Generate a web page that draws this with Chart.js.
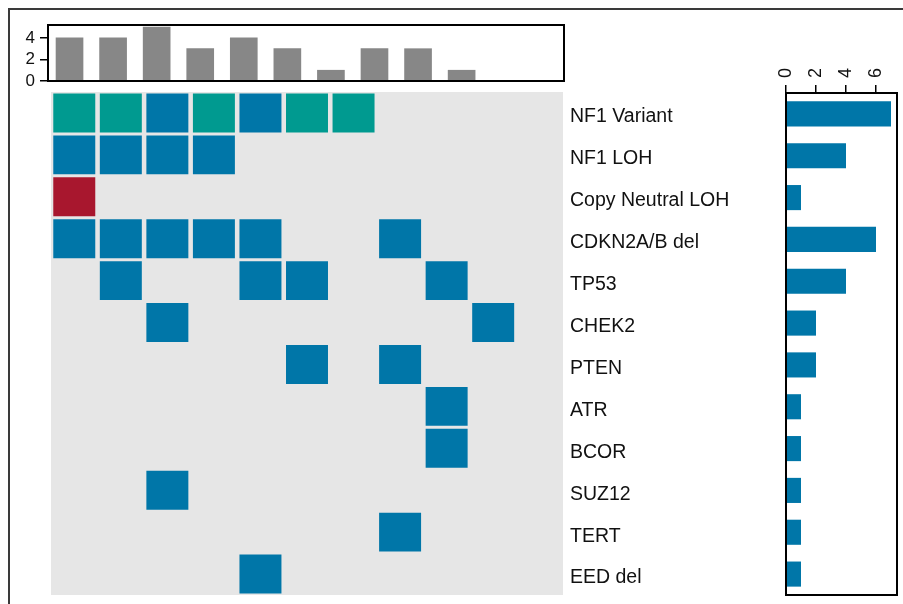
<!DOCTYPE html>
<html><head><meta charset="utf-8">
<script src="https://cdn.jsdelivr.net/npm/chart.js@4/dist/chart.umd.min.js"></script>
<style>
html,body{margin:0;padding:0;background:#fff;}
body{width:903px;height:604px;position:relative;overflow:hidden;}
#frame{position:absolute;left:8px;top:8px;width:920px;height:620px;border-left:2px solid #3a3a3a;border-top:2px solid #3a3a3a;}
canvas{position:absolute;}
</style></head><body>
<div id="frame"></div>
<canvas id="top" width="580" height="90" style="left:0;top:0"></canvas>
<canvas id="grid" width="780" height="604" style="left:0;top:0"></canvas>
<canvas id="side" width="143" height="604" style="left:760px;top:0"></canvas>
<script>
// ---- data ----
const genes = ['NF1 Variant','NF1 LOH','Copy Neutral LOH','CDKN2A/B del','TP53','CHEK2','PTEN','ATR','BCOR','SUZ12','TERT','EED del'];
const sampleIndex = [0,1,2,3,4,5,6,7,8,9];
const sampleCounts = [4,4,5,3,4,3,1,3,3,1];
const geneCounts = [7,4,1,6,4,2,2,1,1,1,1,1];
const topTicks = [0,2,4];
const sideTicks = [0,2,4,6];
// alteration code per sample: 0 none, 1 blue, 2 teal, 3 red
const rowNF1Variant = [2,2,1,2,1,2,2,0,0,0];
const rowNF1LOH     = [1,1,1,1,0,0,0,0,0,0];
const rowCNLOH      = [3,0,0,0,0,0,0,0,0,0];
const rowCDKN2AB    = [1,1,1,1,1,0,0,1,0,0];
const rowTP53       = [0,1,0,0,1,1,0,0,1,0];
const rowCHEK2      = [0,0,1,0,0,0,0,0,0,1];
const rowPTEN       = [0,0,0,0,0,1,0,1,0,0];
const rowATR        = [0,0,0,0,0,0,0,0,1,0];
const rowBCOR       = [0,0,0,0,0,0,0,0,1,0];
const rowSUZ12      = [0,0,1,0,0,0,0,0,0,0];
const rowTERT       = [0,0,0,0,0,0,0,1,0,0];
const rowEED        = [0,0,0,0,1,0,0,0,0,0];
const rows = [rowNF1Variant,rowNF1LOH,rowCNLOH,rowCDKN2AB,rowTP53,rowCHEK2,rowPTEN,rowATR,rowBCOR,rowSUZ12,rowTERT,rowEED];
const codeColors = {1:'#0076a8', 2:'#009a90', 3:'#a8172e'};

const FONT = "'Liberation Sans', Arial, sans-serif";
Chart.defaults.font.family = FONT;
Chart.defaults.animation = false;

const boxPlugin = {
  id:'box',
  afterDraw(chart){
    const a = chart.chartArea, c = chart.ctx;
    c.save(); c.strokeStyle = '#000'; c.lineWidth = 2;
    c.strokeRect(a.left, a.top, a.right-a.left, a.bottom-a.top); c.restore();
  }
};
const bgPlugin = {
  id:'bg',
  beforeDatasetsDraw(chart){
    const a = chart.chartArea, c = chart.ctx;
    c.save(); c.fillStyle = '#e6e6e6';
    c.fillRect(a.left, a.top, a.right-a.left, a.bottom-a.top); c.restore();
  }
};
function noPad(s){ s.paddingTop = 0; s.paddingBottom = 0; s.paddingLeft = 0; s.paddingRight = 0; }

// ---- top bar chart ----
new Chart(document.getElementById('top'), {
  type:'bar',
  data:{ datasets:[{ data: sampleIndex.map((s,i)=>({x:s, y:sampleCounts[i]})), backgroundColor:'#878787', barThickness:27, borderWidth:0 }]},
  options:{
    responsive:false, maintainAspectRatio:false,
    layout:{padding:{top:25,right:16,bottom:9,left:0}},
    plugins:{legend:{display:false}, tooltip:{enabled:false}},
    scales:{
      x:{type:'linear', min:-0.494, max:11.35, offset:false, display:false},
      y:{min:0, max:5.2,
         afterBuildTicks(s){ s.ticks = topTicks.map(v=>({value:v})); },
         afterFit(s){ s.width = 48; noPad(s); },
         ticks:{font:{size:17}, color:'#111', padding:5},
         grid:{drawOnChartArea:false, drawTicks:true, tickLength:8, color:'#000', lineWidth:1.5},
         border:{display:true, color:'#000', width:2}}
    }
  },
  plugins:[boxPlugin]
});

// ---- oncoprint grid ----
const cellDatasets = [1,2,3].map(code => {
  const pts = [];
  rows.forEach((row, r) => row.forEach((v, c) => { if (v === code) pts.push({x:[c-0.451, c+0.451], y:genes[r]}); }));
  return { data: pts, backgroundColor: codeColors[code], borderWidth:0, grouped:false, categoryPercentage:0.93, barPercentage:1 };
});
new Chart(document.getElementById('grid'), {
  type:'bar',
  data:{ labels: genes, datasets: cellDatasets },
  options:{
    indexAxis:'y', responsive:false, maintainAspectRatio:false,
    layout:{padding:{top:92,right:0,bottom:9,left:51}},
    plugins:{legend:{display:false}, tooltip:{enabled:false}},
    scales:{
      x:{type:'linear', min:-0.5, max:10.5, offset:false, display:false},
      y:{type:'category', labels:genes, position:'right', offset:true,
         afterFit(s){ s.width = 217; noPad(s); },
         grid:{display:false, drawTicks:false}, border:{display:false},
         ticks:{font:{size:19.5}, color:'#111', padding:7, labelOffset:4}}
    }
  },
  plugins:[bgPlugin]
});

// ---- side bar chart ----
new Chart(document.getElementById('side'), {
  type:'bar',
  data:{ labels: genes, datasets:[{ data: geneCounts, backgroundColor:'#0076a8', borderWidth:0, barPercentage:0.6, categoryPercentage:1 }]},
  options:{
    indexAxis:'y', responsive:false, maintainAspectRatio:false,
    layout:{padding:{top:0,right:6,bottom:9,left:26}},
    plugins:{legend:{display:false}, tooltip:{enabled:false}},
    scales:{
      x:{type:'linear', position:'top', min:0, max:7.4, offset:false,
         afterBuildTicks(s){ s.ticks = sideTicks.map(v=>({value:v})); },
         afterFit(s){ s.height = 93; noPad(s); },
         ticks:{font:{size:18}, color:'#111', minRotation:90, maxRotation:90, padding:7, labelOffset:22},
         grid:{drawOnChartArea:false, drawTicks:true, tickLength:8, color:'#000', lineWidth:1.5},
         border:{display:true, color:'#000', width:2}},
      y:{type:'category', display:false, offset:true}
    }
  },
  plugins:[boxPlugin]
});
</script>
</body></html>
